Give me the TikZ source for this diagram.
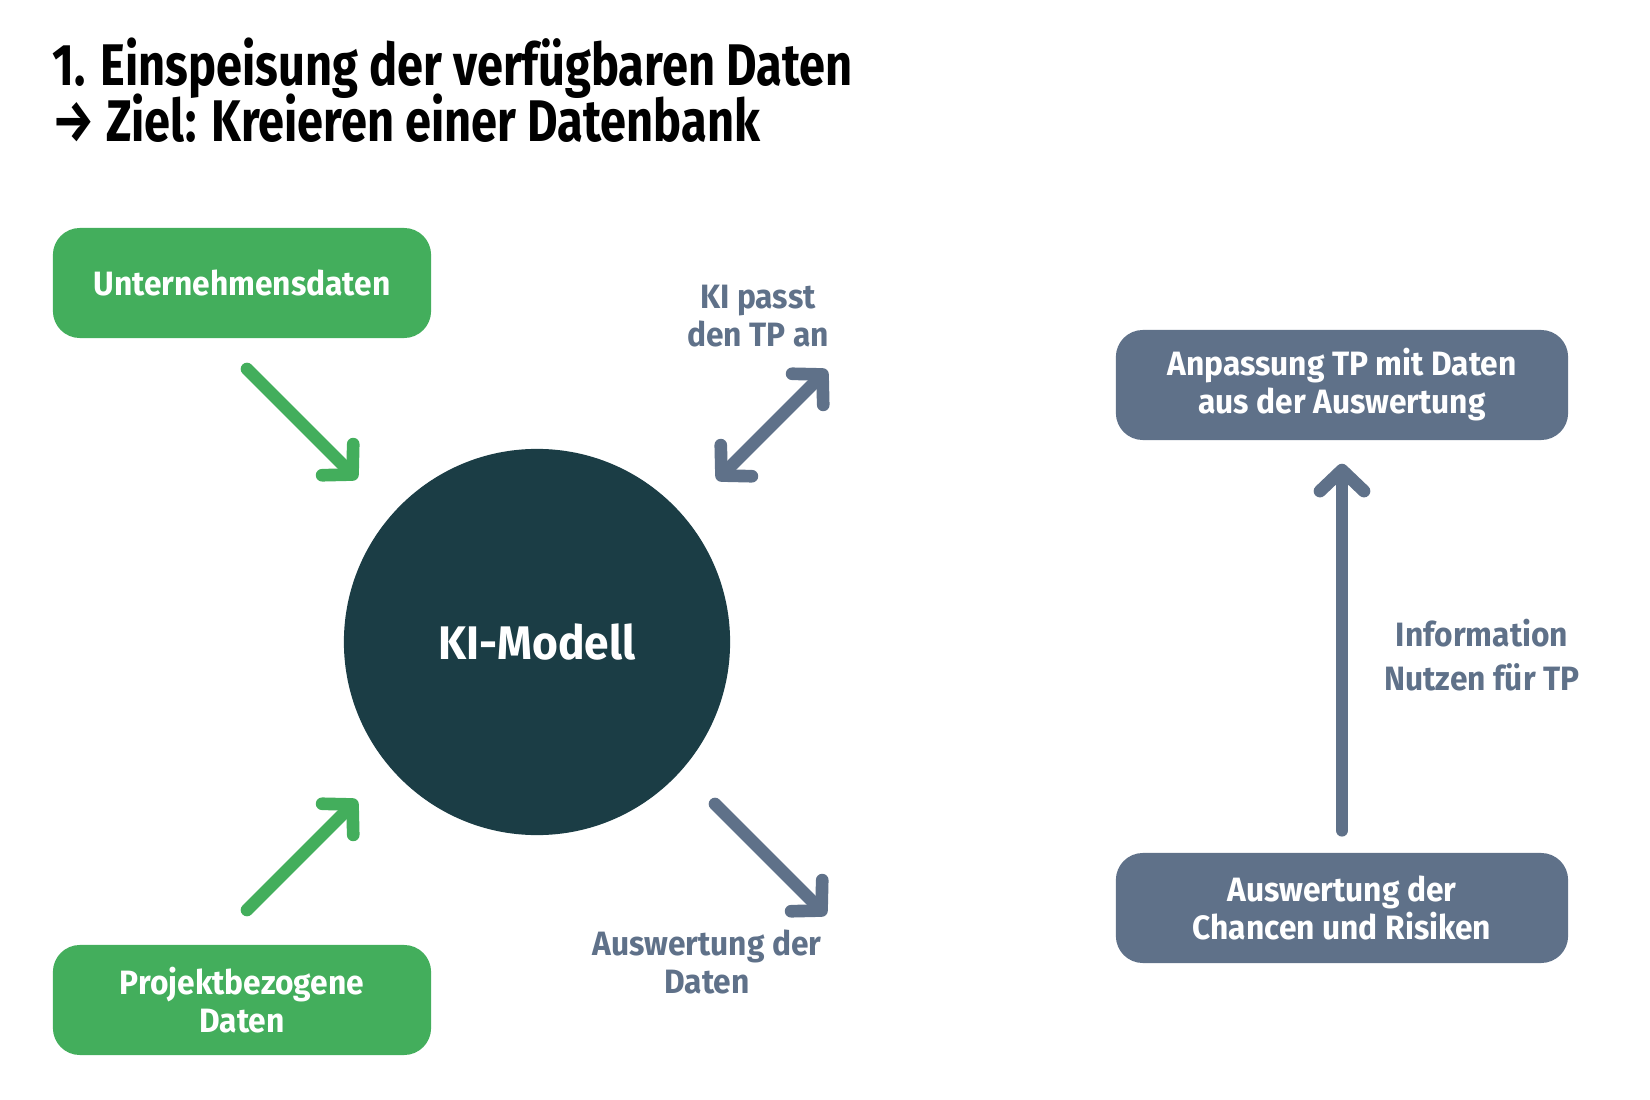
\documentclass[tikz,border=0pt]{standalone}
\usepackage{fontspec}
\setmainfont{Fira Sans}[FakeStretch=0.94]
\newfontfamily\titlefont{Fira Sans}[FakeStretch=0.8]
\usetikzlibrary{arrows.meta}

\definecolor{kigreen}{HTML}{43AE5C}
\definecolor{kislate}{HTML}{5F7189}
\definecolor{kidark}{HTML}{1B3D45}

\tikzset{
  databox/.style={rounded corners=2.7mm, minimum height=1.1cm,
    text=white, align=center, font=\bfseries\fontsize{9.6}{10.8}\selectfont},
  greenbox/.style={databox, fill=kigreen, minimum width=3.78cm},
  slatebox/.style={databox, fill=kislate, minimum width=4.52cm},
  note/.style={text=kislate, align=center, font=\bfseries\fontsize{9.6}{10.6}\selectfont},
  barb/.tip={Straight Barb[length=2.1mm, width=4.4mm, round]},
  feedarrow/.style={line width=3.6pt, line cap=round, -barb},
  titleline/.style={anchor=base west, inner sep=0pt,
    font=\titlefont\bfseries\fontsize{16.7}{16}\selectfont},
}

\begin{document}
\begin{tikzpicture}[x=0.01cm, y=-0.01cm]

  \useasboundingbox (0,0) rectangle (1650,1100);

  % title
  \node[titleline] (title) at (52,86) {1. Einspeisung der verfügbaren Daten};
  \node[titleline] (ziel) at (52,142) {→ Ziel: Kreieren einer Datenbank};

  % left side
  \node[greenbox] (firma) at (242,283) {Unternehmensdaten};
  \node[greenbox] (projekt) at (242,1000) {Projektbezogene\\Daten};
  \node[circle, fill=kidark, minimum size=3.86cm, text=white,
        font=\bfseries\fontsize{13.4}{16}\selectfont] (modell) at (537,642) {KI-Modell};

  % right side
  \node[slatebox] (anpassung) at (1342,385) {Anpassung TP mit Daten\\aus der Auswertung};
  \node[slatebox] (chancen) at (1342,908) {Auswertung der\\Chancen und Risiken};

  % arrow ends
  \coordinate (a1) at (247,369);
  \coordinate (a2) at (357,479);
  \coordinate (b1) at (247,910);
  \coordinate (b2) at (357,800);
  \coordinate (c1) at (717,480);
  \coordinate (c2) at (827,370);
  \coordinate (d1) at (715,804);
  \coordinate (d2) at (826,915);

  \draw[feedarrow, kigreen] (a1) -- (a2);
  \draw[feedarrow, kigreen] (b1) -- (b2);
  \draw[feedarrow, kislate, barb-barb] (c1) -- (c2);
  \draw[feedarrow, kislate] (d1) -- (d2);
  \draw[feedarrow, kislate, shorten <=2.2mm, shorten >=2.3mm] (chancen) -- (anpassung);

  % labels
  \node[note] (passt) at (758,316) {KI passt\\den TP an};
  \node[note] (daten) at (707,962) {Auswertung der\\Daten};
  \node[note, font=\bfseries\fontsize{9.6}{12.5}\selectfont] (nutzen) at (1482,655)
    {Information\\Nutzen für TP};

\end{tikzpicture}
\end{document}
